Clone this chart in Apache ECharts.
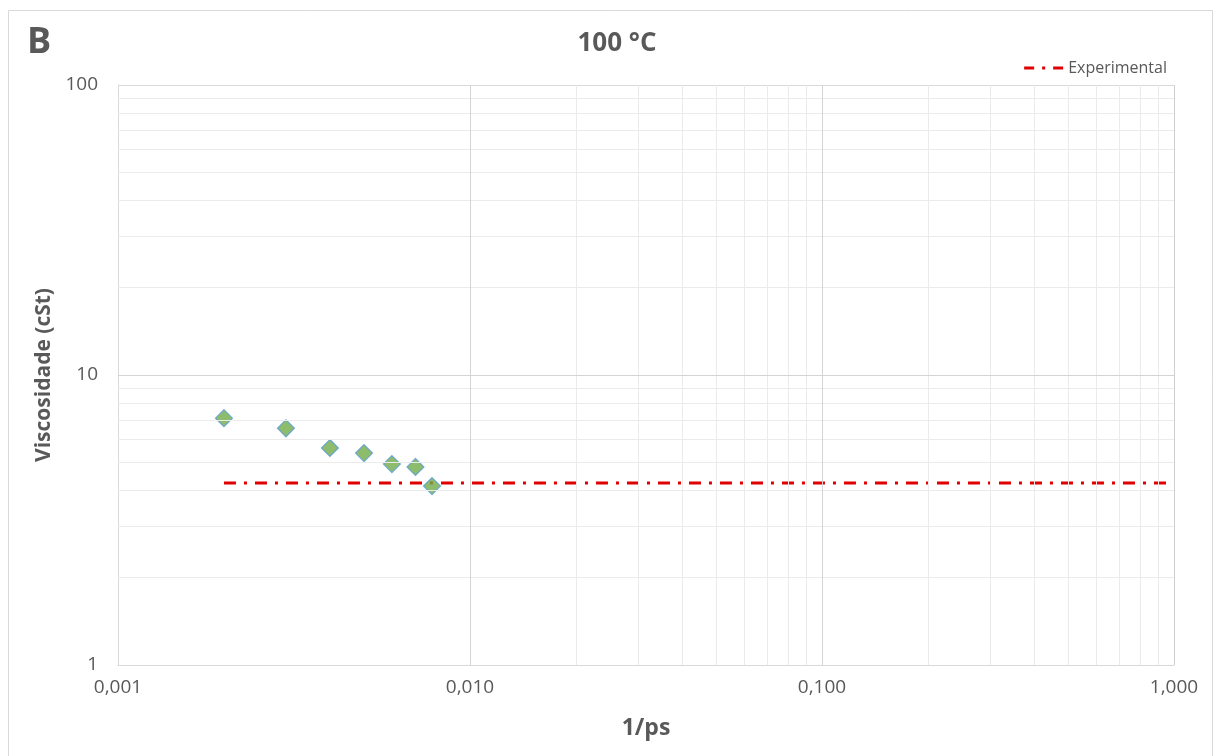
<!DOCTYPE html>
<html>
<head>
<meta charset="utf-8">
<script src="https://cdn.jsdelivr.net/npm/echarts@6/dist/echarts.min.js"></script>
<style>html,body{margin:0;padding:0;background:#fff}#c{width:1216px;height:756px}</style>
</head>
<body>
<div id="c"></div>
<script>
const xValues = [0.002, 0.003, 0.004, 0.005, 0.006, 0.007, 0.0078];
const viscosity = [7.1, 6.55, 5.6, 5.38, 4.93, 4.82, 4.14];
const experimentalX = [0.002, 1];
const experimentalY = [4.24, 4.24];
const xMinorGrid = [0.002,0.003,0.004,0.005,0.006,0.007,0.008,0.009,0.02,0.03,0.04,0.05,0.06,0.07,0.08,0.09,0.2,0.3,0.4,0.5,0.6,0.7,0.8,0.9];
const yMinorGrid = [2,3,4,5,6,7,8,9,20,30,40,50,60,70,80,90];
const xMajorGrid = [0.01, 0.1];
const yMajorGrid = [10];

const font = '"Open Sans", "Noto Sans", sans-serif';
const chart = echarts.init(document.getElementById('c'), null, {renderer: 'canvas'});
chart.setOption({
  backgroundColor: '#fff',
  animation: false,
  textStyle: {fontFamily: font},
  title: [
    {text: '100 °C', left: 612, top: 26, textAlign: 'center',
     textStyle: {fontSize: 26, fontWeight: 'bold', color: '#595959', fontFamily: font}},
    {text: 'B', left: 22, top: 20,
     textStyle: {fontSize: 36, fontWeight: 'bold', color: '#595959', fontFamily: font}}
  ],
  legend: {
    show: true,
    right: 44, top: 55, itemWidth: 39, itemHeight: 14, itemGap: 3,
    textStyle: {color: '#595959', fontSize: 16, fontFamily: font},
    itemStyle: {opacity: 0},
    lineStyle: {width: 3, type: [10, 8, 3, 8], color: '#e00000'},
    data: ['Experimental']
  },
  grid: {left: 118, right: 42, top: 85, bottom: 91, containLabel: false},
  xAxis: {
    type: 'log', logBase: 10, min: 0.001, max: 1,
    name: '1/ps', nameLocation: 'middle', nameGap: 52,
    nameTextStyle: {fontSize: 23, fontWeight: 'bold', color: '#595959', fontFamily: font},
    axisLine: {show: true, lineStyle: {color: '#d9d9d9'}},
    axisTick: {show: false},
    axisLabel: {color: '#595959', fontSize: 19, margin: 13, fontFamily: font,
      formatter: v => v.toFixed(3).replace('.', ',')},
    splitLine: {show: true, lineStyle: {color: '#d0d0d0'}}
  },
  yAxis: {
    type: 'log', logBase: 10, min: 1, max: 100,
    name: 'Viscosidade (cSt)', nameLocation: 'middle', nameGap: 59,
    nameTextStyle: {fontSize: 21, fontWeight: 'bold', color: '#595959', fontFamily: font},
    axisLine: {show: true, lineStyle: {color: '#d9d9d9'}},
    axisTick: {show: false},
    axisLabel: {color: '#595959', fontSize: 19, margin: 20, fontFamily: font,
      formatter: v => String(Math.round(v))},
    splitLine: {show: true, lineStyle: {color: '#d9d9d9'}}
  },
  series: [
    {
      name: 'grid', type: 'line', data: [], silent: true, legendHoverLink: false,
      markLine: {
        silent: true, symbol: 'none', label: {show: false},
        lineStyle: {color: '#ebebeb', type: 'solid', width: 1},
        data: xMinorGrid.map(v => ({xAxis: v})).concat(yMinorGrid.map(v => ({yAxis: v})))
      },
      z: 1
    },
    {
      name: 'majorGrid', type: 'line', data: [], silent: true, legendHoverLink: false,
      markLine: {
        silent: true, symbol: 'none', label: {show: false},
        lineStyle: {color: '#d4d4d4', type: 'solid', width: 1},
        data: xMajorGrid.map(v => ({xAxis: v})).concat(yMajorGrid.map(v => ({yAxis: v})))
      },
      z: 2
    },
    {
      name: 'Experimental', type: 'line',
      data: experimentalX.map((x, i) => [x, experimentalY[i]]),
      symbol: 'none',
      lineStyle: {color: '#e00000', width: 3, type: [12, 8, 3, 8]},
      itemStyle: {color: '#e00000'},
      z: 3
    },
    {
      name: 'Simulado', type: 'scatter',
      data: xValues.map((x, i) => [x, viscosity[i]]),
      symbol: 'diamond', symbolSize: 17,
      itemStyle: {color: '#70ad47', borderColor: '#5b9bd5', borderWidth: 1.2},
      z: 4
    }
  ],
  graphic: [{
    type: 'rect', shape: {x: 8.5, y: 10.5, width: 1204, height: 760},
    style: {fill: 'none', stroke: '#d9d9d9', lineWidth: 1}, silent: true, z: -1
  }]
});
</script>
</body>
</html>
